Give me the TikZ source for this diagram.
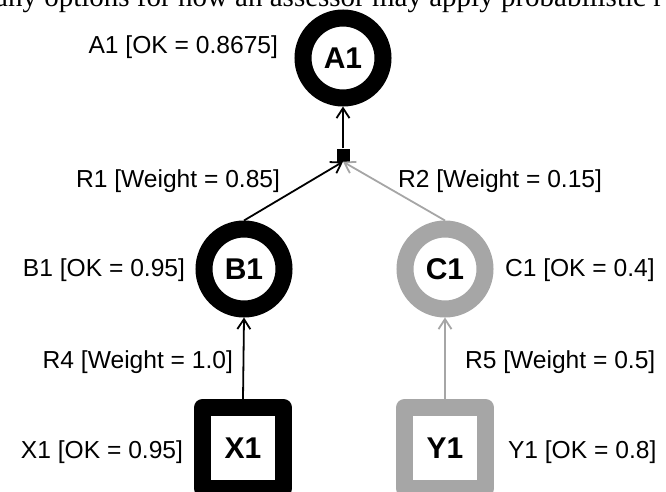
\documentclass[tikz,border=0pt]{standalone}
\usepackage{fontspec}
\setmainfont{Liberation Sans}
\newfontfamily\bodyserif{Liberation Serif}
\usetikzlibrary{arrows.meta}
\definecolor{soft}{HTML}{A6A6A6}
\begin{document}
\begin{tikzpicture}[x=1pt,y=-1pt,
  tag/.style={inner sep=0pt,outer sep=0pt,font=\fontsize{24.6}{28}\selectfont},
  ring/.style={circle,draw,line width=17pt,minimum size=80pt,inner sep=0pt,
    font=\fontsize{30}{34}\selectfont\bfseries},
  block/.style={rectangle,draw,line width=17pt,minimum size=81pt,inner sep=0pt,
    line join=round,font=\fontsize{30}{34}\selectfont\bfseries},
  hub/.style={rectangle,fill=black,minimum size=13pt,inner sep=0pt},
  link/.style={line width=1.8pt,
    -{Straight Barb[length=10pt,width=13pt,line width=1.8pt]}},
  faint/.style={draw=soft,color=soft},
]
\useasboundingbox (0,0) rectangle (666,492);
\clip (0,0) rectangle (666,492);

% running text of the page above the figure
\node[anchor=base west,inner sep=0pt,font=\bodyserif\fontsize{29}{34}\selectfont]
  (head) at (-5,7) {any options for how an assessor may apply probabilistic r};

% nodes
\node[ring] (A1) at (343,58) {A1};
\node[hub] (J) at (343,155) {};
\node[ring] (B1) at (244,269) {B1};
\node[ring,draw=soft] (C1) at (445,269) {C1};
\node[block] (X1) at (243,448) {X1};
\node[block,draw=soft] (Y1) at (445,448) {Y1};

% connectors
\draw[link] (J.north) -- (A1.south);
\draw[link] (B1.north) -- (J.south);
\draw[link,faint] (C1.north) -- (J.south);
\draw[link] (X1.north) -- (B1.south);
\draw[link,faint] (Y1.north) -- (C1.south);

% labels
\node[tag,anchor=east] (lA1) at (278,47) {A1 [OK = 0.8675]};
\node[tag,anchor=east] (lR1) at (280,181) {R1 [Weight = 0.85]};
\node[tag,anchor=west] (lR2) at (398,181) {R2 [Weight = 0.15]};
\node[tag,anchor=east] (lB1) at (185,270) {B1 [OK = 0.95]};
\node[tag,anchor=west] (lC1) at (505,270) {C1 [OK = 0.4]};
\node[tag,anchor=east] (lR4) at (233,362) {R4 [Weight = 1.0]};
\node[tag,anchor=west] (lR5) at (465,362) {R5 [Weight = 0.5]};
\node[tag,anchor=east] (lX1) at (183,452) {X1 [OK = 0.95]};
\node[tag,anchor=west] (lY1) at (508,452) {Y1 [OK = 0.8]};
\end{tikzpicture}
\end{document}
